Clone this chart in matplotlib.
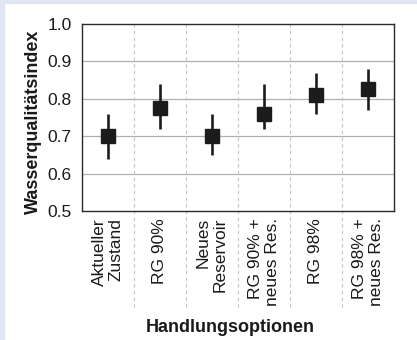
import matplotlib
matplotlib.use("Agg")
import matplotlib.pyplot as plt
from matplotlib.patches import Rectangle

plt.rcParams['font.family'] = ['Liberation Sans', 'DejaVu Sans']

categories = ["Aktueller\nZustand", "RG 90%", "Neues\nReservoir",
              "RG 90% +\nneues Res.", "RG 98%", "RG 98% +\nneues Res."]
means = [0.70, 0.775, 0.70, 0.76, 0.81, 0.825]
lower = [0.64, 0.72, 0.65, 0.72, 0.76, 0.77]
upper = [0.76, 0.84, 0.76, 0.84, 0.87, 0.88]
yticks = [0.5, 0.6, 0.7, 0.8, 0.9, 1.0]
ylabel = "Wasserqualitätsindex"
xlabel = "Handlungsoptionen"

W, H = 417, 340
fig = plt.figure(figsize=(W / 100, H / 100), dpi=100, facecolor='white')
bg = '#dfe5f1'
fig.patches.append(Rectangle((0, 0), 4 / W, 1, transform=fig.transFigure, color=bg, zorder=0))
fig.patches.append(Rectangle((0, 1 - 3 / H), 1, 3 / H, transform=fig.transFigure, color=bg, zorder=0))

ax = fig.add_axes([82 / W, 1 - 211 / H, 312 / W, 187 / H])
x = list(range(len(categories)))

for yv in yticks[1:-1]:
    ax.axhline(yv, color='#b0b0b0', lw=0.9, zorder=1)

for i in range(len(categories) - 1):
    ax.plot([i + 0.5, i + 0.5], [-0.513, 1], transform=ax.get_xaxis_transform(),
            clip_on=False, color='#c4c4c4', lw=0.8, linestyle=(0, (3, 3)), zorder=1)

yerr = [[m - l for m, l in zip(means, lower)], [u - m for m, u in zip(means, upper)]]
ax.errorbar(x, means, yerr=yerr, fmt='s', color='#1c1c1c', ecolor='#1c1c1c',
            elinewidth=1.9, markersize=9.6, capsize=0, zorder=3)

ax.set_xlim(-0.5, len(categories) - 0.5)
ax.set_ylim(0.5, 1.0)
ax.set_yticks(yticks)
ax.set_yticklabels([f"{v:.1f}" for v in yticks])
ax.set_xticks(x)
ax.set_xticklabels(categories)
ax.tick_params(axis='both', length=0, labelsize=12.5, colors='#1a1a1a')
ax.tick_params(axis='y', pad=7.2)
ax.tick_params(axis='x', pad=5)
for lab in ax.get_xticklabels():
    lab.set_rotation(90)
    lab.set_ha('center')
    lab.set_va('top')
    lab.set_multialignment('right')
    lab.set_linespacing(1.15)
for s in ax.spines.values():
    s.set_color('#2a2a2a')
    s.set_linewidth(1.0)

fig.text(33 / W, 1 - 122 / H, ylabel, rotation=90, ha='center', va='center',
         fontsize=13, fontweight='bold', color='#1a1a1a')
fig.text(230 / W, 1 - 328 / H, xlabel, ha='center', va='center',
         fontsize=13, fontweight='bold', color='#1a1a1a')

fig.savefig('out.png', dpi=100, facecolor='white')
